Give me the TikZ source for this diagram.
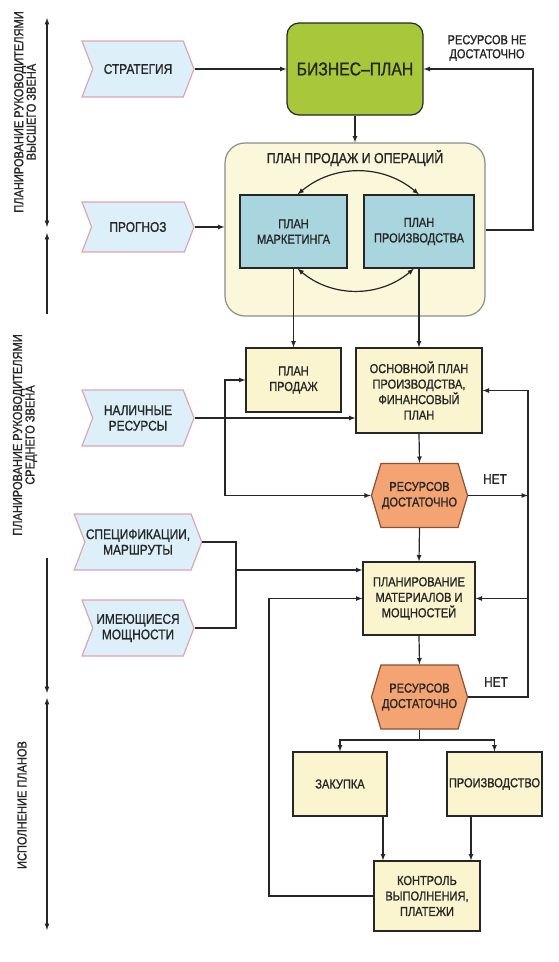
\documentclass[tikz,border=0pt]{standalone}
\usepackage{fontspec}
\setmainfont{Liberation Sans}[FakeStretch=0.85, FakeBold=1]
\usetikzlibrary{arrows,shapes.symbols}

\definecolor{infill}{HTML}{DDF0FA}
\definecolor{inborder}{HTML}{E0A4B0}
\definecolor{bpgreen}{HTML}{A6C83A}
\definecolor{sopfill}{HTML}{FBF7DA}
\definecolor{sopborder}{HTML}{8C8C8C}
\definecolor{tealfill}{HTML}{A8D5DE}
\definecolor{ylwfill}{HTML}{FBF5CF}
\definecolor{hexfill}{HTML}{F4A472}
\definecolor{hexborder}{HTML}{8A5030}
\definecolor{darkline}{HTML}{262626}

\begin{document}
\begin{tikzpicture}[
        x=1pt, y=-1pt,
        >=latex,
        line width=1.2pt,
        draw=darkline,
        text=darkline,
        font=\fontsize{13}{15.5}\selectfont,
        inbox/.style={signal, signal to=east, signal from=west, signal pointer angle=138,
            draw=inborder, fill=infill, minimum width=112pt, minimum height=56pt,
            inner sep=1pt, align=center, font=\fontsize{14}{15.5}\selectfont},
        tealbox/.style={draw=darkline, fill=tealfill, minimum height=73pt, inner sep=1pt, align=center},
        ylwbox/.style={draw=darkline, fill=ylwfill, inner sep=1pt, align=center},
        checkhex/.style={signal, signal to=east and west, signal pointer angle=147,
            draw=hexborder, fill=hexfill, minimum width=95pt, minimum height=64pt,
            inner sep=1pt, align=center},
        axislabel/.style={rotate=90, align=center, font=\fontsize{13}{12.5}\selectfont}
        ]
            \useasboundingbox (0, 0) rectangle (558, 962);
            %\draw[lightgray] (0, 0) grid[step=50] (558, 962);

            % levels
            \coordinate (a1) at (47, 18);
            \coordinate (a2) at (47, 227);
            \coordinate (a3) at (47, 233);
            \coordinate (a4) at (47, 314);
            \coordinate (a5) at (47, 558);
            \coordinate (a6) at (47, 693);
            \coordinate (a7) at (47, 698);
            \coordinate (a8) at (47, 930);
            \draw[<->] (a1) -- (a2);
            \draw[<-] (a3) -- (a4);
            \draw[->] (a5) -- (a6);
            \draw[<->] (a7) -- (a8);
            \node[axislabel] (lvl1) at (25, 112) {ПЛАНИРОВАНИЕ РУКОВОДИТЕЛЯМИ\\ВЫСШЕГО ЗВЕНА};
            \node[axislabel] (lvl2) at (25, 435) {ПЛАНИРОВАНИЕ РУКОВОДИТЕЛЯМИ\\СРЕДНЕГО ЗВЕНА};
            \node[axislabel] (lvl3) at (22, 805) {ИСПОЛНЕНИЕ ПЛАНОВ};

            % inputs
            \node[inbox] (strat) at (138, 69) {СТРАТЕГИЯ};
            \node[inbox, minimum height=50pt] (prog) at (138, 227) {ПРОГНОЗ};
            \node[inbox] (nal) at (138, 418) {НАЛИЧНЫЕ\\РЕСУРСЫ};
            \node[inbox] (spec) at (138, 542) {СПЕЦИФИКАЦИИ,\\МАРШРУТЫ};
            \node[inbox] (imm) at (138, 628) {ИМЕЮЩИЕСЯ\\МОЩНОСТИ};

            \node[draw=darkline, fill=bpgreen, rounded corners=12pt, minimum width=136pt,
                minimum height=92pt, font=\fontsize{18.5}{20}\selectfont] (bp) at (355, 69) {БИЗНЕС–ПЛАН};
            \node[font=\fontsize{13}{14}\selectfont, align=center] (lack) at (487, 48) {РЕСУРСОВ НЕ\\ДОСТАТОЧНО};

            \node[draw=sopborder, fill=sopfill, rounded corners=20pt, minimum width=260pt,
                minimum height=173pt] (sop) at (355, 229.5) {};
            \node[font=\fontsize{14.5}{16}\selectfont] (soptitle) at (355, 158) {ПЛАН ПРОДАЖ И ОПЕРАЦИЙ};
            \node[tealbox, minimum width=107pt] (mkt) at (293.5, 231.5) {ПЛАН\\МАРКЕТИНГА};
            \node[tealbox, minimum width=110pt] (prod) at (419, 231.5) {ПЛАН\\ПРОИЗВОДСТВА};

            \node[ylwbox, minimum width=95pt, minimum height=64pt] (sales) at (293.5, 380) {ПЛАН\\ПРОДАЖ};
            \node[ylwbox, minimum width=126pt, minimum height=85pt] (mps) at (419, 390.5) {ОСНОВНОЙ ПЛАН\\ПРОИЗВОДСТВА,\\ФИНАНСОВЫЙ\\ПЛАН};
            \node[checkhex] (chk1) at (419.5, 495.5) {РЕСУРСОВ\\ДОСТАТОЧНО};
            \node[font=\fontsize{14}{16}\selectfont] (no1) at (495, 479) {НЕТ};
            \node[ylwbox, minimum width=112pt, minimum height=73pt] (mrp) at (419, 598.5) {ПЛАНИРОВАНИЕ\\МАТЕРИАЛОВ И\\МОЩНОСТЕЙ};
            \node[checkhex] (chk2) at (419.5, 697) {РЕСУРСОВ\\ДОСТАТОЧНО};
            \node[font=\fontsize{14}{16}\selectfont] (no2) at (496, 682) {НЕТ};
            \node[ylwbox, minimum width=94pt, minimum height=64pt] (buy) at (340, 784) {ЗАКУПКА};
            \node[ylwbox, minimum width=95pt, minimum height=64pt] (make) at (494.5, 784) {ПРОИЗВОДСТВО};
            \node[ylwbox, minimum width=106pt, minimum height=70pt] (ctrl) at (427, 896) {КОНТРОЛЬ\\ВЫПОЛНЕНИЯ,\\ПЛАТЕЖИ};

            % top level
            \coordinate (rtop) at (533, 230);
            \draw[->] (strat.east) -- (bp.west);
            \draw[->] (bp.south) -- (sop.north);
            \draw[->] (prog.east) -- (prog.east -| sop.west);
            \draw[->] (sop.east |- rtop) -- (rtop) |- (bp.east);
            \draw[<->] ([xshift=4pt]mkt.north) to[bend left=40] (prod.north);
            \draw[<->] ([xshift=4pt]mkt.south) to[bend right=40] ([xshift=-5pt]prod.south);
            \draw[->] (mkt.south) -- (sales.north);
            \draw[->] (prod.south) -- (mps.north);

            % middle level
            \coordinate (jn) at (225, 418);
            \coordinate (rgt) at (528, 598.5);
            \coordinate (jm) at (236, 570);
            \coordinate (lft) at (269, 598.5);
            \draw[->] (nal.east) -- (nal.east -| mps.west);
            \draw[->] (jn) |- (sales.west);
            \draw[->] (jn) |- (chk1.west);
            \draw[->] (mps.south) -- (chk1.north);
            \draw[->] (chk1.east) -- (chk1.east -| rgt);
            \draw[->] (chk2.east) -| (rgt |- mps.east) -- (mps.east);
            \draw[->] (rgt) -- (mrp.east);
            \draw[->] (chk1.south) -- (mrp.north);
            \draw (spec.east) -| (jm);
            \draw (imm.east) -| (jm);
            \draw[->] (jm) -- (jm -| mrp.west);
            \draw[->] (ctrl.west) -| (lft) -- (mrp.west);
            \draw[->] (mrp.south) -- (chk2.north);

            % execution
            \coordinate (split) at (419.5, 740);
            \draw (chk2.south) -- (split);
            \draw[->] (split) -| (buy.north);
            \draw[->] (split) -| (make.north);
            \draw[->] ([xshift=43pt]buy.south) -- ([xshift=43pt]buy.south |- ctrl.north);
            \draw[->] ([xshift=-23.5pt]make.south) -- ([xshift=-23.5pt]make.south |- ctrl.north);
        \end{tikzpicture}
\end{document}
